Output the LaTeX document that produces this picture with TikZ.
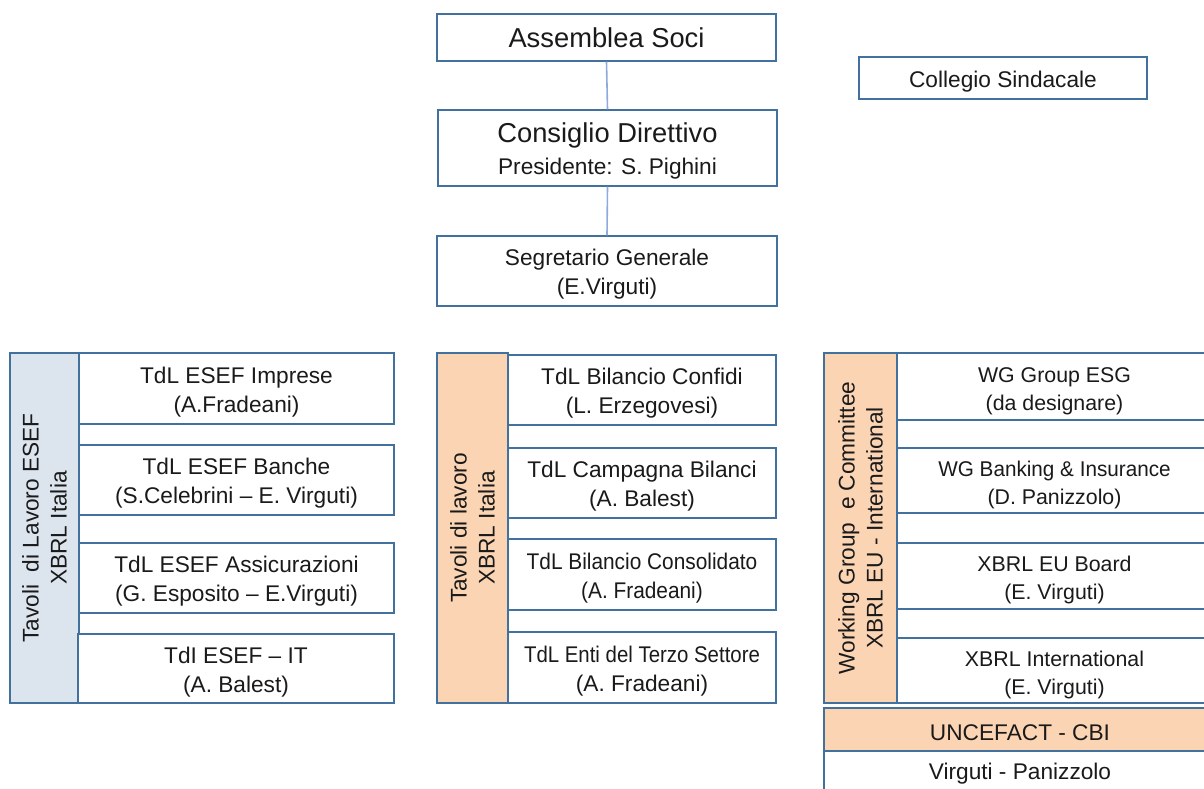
\documentclass[tikz,border=0pt]{standalone}
\usepackage{fontspec}
\setmainfont{Liberation Sans}
\usetikzlibrary{fit}
\definecolor{bord}{HTML}{41719C}
\definecolor{peach}{HTML}{FBD4B4}
\definecolor{lblue}{HTML}{DCE4EE}
\definecolor{conn}{HTML}{8FAADC}
\definecolor{txt}{HTML}{1A1A1A}
\tikzset{
  box/.style={draw=bord, line width=1.1pt, fill=white, inner sep=0pt},
  sidebar/.style={draw=bord, line width=1.1pt, inner sep=0pt},
  label/.style={align=center, inner sep=0pt, text=txt, yshift=-2.4pt,
    font=\fontsize{17}{21.75}\selectfont},
  rlabel/.style={label, yshift=-0.8pt, font=\fontsize{16}{21}\selectfont},
  biglabel/.style={align=center, inner sep=0pt, text=txt,
    font=\fontsize{20.5}{23}\selectfont},
  sidetext/.style={rotate=90, align=center, inner sep=0pt, text=txt,
    font=\fontsize{17}{21}\selectfont},
  conline/.style={draw=conn, line width=1.2pt}
}
\begin{document}
\begin{tikzpicture}[x=0.75pt,y=-0.75pt]
\useasboundingbox (0,0) rectangle (1204,789);
\clip (0,0) rectangle (1204,789);

% top hierarchy
\node[box, fit={(437,14) (776,61)}] (assemblea) {};
\node[biglabel] (assembleaT) at (assemblea.center) {Assemblea Soci};
\node[box, fit={(438,110) (777,186)}] (consiglio) {};
\node[label] (consiglioT) at (consiglio.center)
  {{\fontsize{20.5}{23}\selectfont Consiglio Direttivo}\\[2pt]Presidente: S. Pighini};
\node[box, fit={(437,236) (777,306)}] (segretario) {};
\node[label] (segretarioT) at (segretario.center) {Segretario Generale\\(E.Virguti)};
\node[box, fit={(859,57) (1147,99)}] (collegio) {};
\node[label] (collegioT) at (collegio.center) {Collegio Sindacale};
\draw[conline] (assemblea.south) -- (consiglio.north);
\draw[conline] (consiglio.south) -- (segretario.north);

% left column
\node[sidebar, fill=lblue, fit={(10,353) (79,703)}] (lside) {};
\node[sidetext] (ltext) at (lside.center) {Tavoli\ \ di Lavoro ESEF\\XBRL Italia};
\node[box, fit={(79,353) (394,424)}] (l1) {};
\node[label] (l1T) at (l1.center) {TdL ESEF Imprese\\(A.Fradeani)};
\node[box, fit={(79,445) (394,515)}] (l2) {};
\node[label] (l2T) at (l2.center) {TdL ESEF Banche\\(S.Celebrini -- E. Virguti)};
\node[box, fit={(79,543) (394,613)}] (l3) {};
\node[label] (l3T) at (l3.center) {TdL ESEF Assicurazioni\\(G. Esposito -- E.Virguti)};
\node[box, fit={(78,634) (394,703)}] (l4) {};
\node[label] (l4T) at (l4.center) {TdI ESEF -- IT\\(A. Balest)};

% middle column
\node[sidebar, fill=peach, fit={(437,353) (508,703)}] (mside) {};
\node[sidetext] (mtext) at (mside.center) {Tavoli di lavoro\\XBRL Italia};
\node[box, fit={(508,355) (776,425)}] (m1) {};
\node[label] (m1T) at (m1.center) {TdL Bilancio Confidi\\(L. Erzegovesi)};
\node[box, fit={(508,448) (776,518)}] (m2) {};
\node[label] (m2T) at (m2.center) {TdL Campagna Bilanci\\(A. Balest)};
\node[box, fit={(508,539) (776,610)}] (m3) {};
\node[label] (m3T) at (m3.center) {\scalebox{0.92}[1]{TdL Bilancio Consolidato}\\\scalebox{0.92}[1]{(A. Fradeani)}};
\node[box, fit={(508,632) (776,703)}] (m4) {};
\node[label] (m4T) at (m4.center) {\scalebox{0.9}[1]{TdL Enti del Terzo Settore}\\(A. Fradeani)};

% right column
\node[sidebar, fill=peach, fit={(824,353) (897,703)}] (rside) {};
\node[sidetext] (rtext) at (rside.center) {Working Group\ \ e Committee\\XBRL EU - International};
\node[box, fit={(897,353) (1212,420)}] (r1) {};
\node[rlabel] (r1T) at (r1.center) {WG Group ESG\\(da designare)};
\node[box, fit={(897,448) (1212,513)}] (r2) {};
\node[rlabel] (r2T) at (r2.center) {\scalebox{0.97}[1]{WG Banking \& Insurance}\\(D. Panizzolo)};
\node[box, fit={(897,543) (1212,609)}] (r3) {};
\node[rlabel] (r3T) at (r3.center) {XBRL EU Board\\(E. Virguti)};
\node[box, fit={(897,638) (1212,703)}] (r4) {};
\node[rlabel] (r4T) at (r4.center) {XBRL International\\(E. Virguti)};

% bottom right
\node[box, fill=peach, fit={(824,708) (1216,751)}] (unce) {};
\node[label] (unceT) at (unce.center) {UNCEFACT - CBI};
\node[box, fit={(824,751) (1216,798)}] (unceb) {};
\node[label, yshift=2.4pt] (unct) at (1020,774) {Virguti - Panizzolo};
\end{tikzpicture}
\end{document}
